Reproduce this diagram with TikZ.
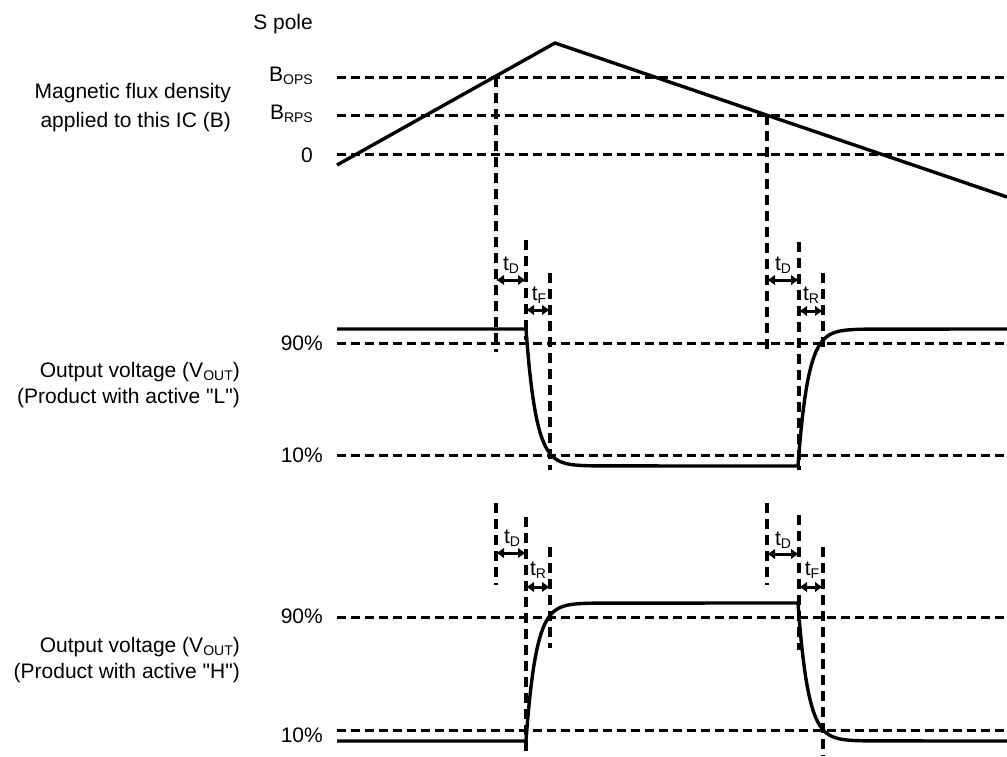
\documentclass[tikz,border=0pt]{standalone}
\usepackage{fontspec}
\newfontfamily\lib{Liberation Sans}
\usetikzlibrary{arrows.meta}
\newcommand\sbs[1]{\raisebox{-3pt}{\fontsize{14}{14}\selectfont #1}}
\begin{document}
\begin{tikzpicture}[x=1pt,y=-1pt,
  wave/.style={line width=3.4pt, line join=round},
  hdash/.style={line width=3pt, dash pattern=on 9pt off 5pt},
  vdash/.style={line width=3.3pt, dash pattern=on 10pt off 6pt},
  dim/.style={line width=3pt, {Latex[length=8pt,width=11pt]}-{Latex[length=8pt,width=11pt]}},
  lbl/.style={font=\lib\fontsize{21}{27}\selectfont, inner sep=0pt, anchor=base east},
  tl/.style={font=\lib\fontsize{21}{27}\selectfont, inner sep=0pt, anchor=base}]
\useasboundingbox (0,0) rectangle (1007,756);
% left labels
\node[lbl] (spole) at (313,29) {S pole};
\node[lbl] (bops) at (313,81) {B\sbs{OPS}};
\node[lbl] (brps) at (313,119) {B\sbs{RPS}};
\node[lbl] (zero) at (313,162) {0};
\node[lbl] (mag1) at (231,98) {Magnetic flux density};
\node[lbl] (mag2) at (231,127) {applied to this IC (B)};
\node[lbl] (ol1) at (240,377) {Output voltage (V\sbs{OUT})};
\node[lbl] (ol2) at (240,403) {(Product with active "L")};
\node[lbl] (oh1) at (240,652) {Output voltage (V\sbs{OUT})};
\node[lbl] (oh2) at (240,678) {(Product with active "H")};
\node[lbl] (l90) at (323,350) {90\%};
\node[lbl] (l10) at (323,462) {10\%};
\node[lbl] (h90) at (323,623) {90\%};
\node[lbl] (h10) at (323,742) {10\%};
% horizontal reference lines
\foreach \yy/\nm in {77/ops,115/rps,154/zr,343/la,455/lb,617/ha,730/hb}{
  \coordinate (\nm W) at (337,\yy);
  \coordinate (\nm E) at (1007,\yy);
  \draw[hdash] (\nm W) -- (\nm E);
}
% flux triangle
\coordinate (b0) at (337,165);
\coordinate (bpk) at (555,43);
\coordinate (b1) at (1007,197);
\draw[wave] (b0) -- (bpk) -- (b1);
% vertical dashed lines
\draw[vdash] (496,77) -- (496,352);
\draw[vdash] (496,503) -- (496,585);
\draw[vdash] (526,240) -- (526,340);
\draw[vdash] (526,517) -- (526,752);
\draw[vdash] (550,273) -- (550,470);
\draw[vdash] (550,547) -- (550,648);
\draw[vdash] (767,115) -- (767,350);
\draw[vdash] (767,503) -- (767,585);
\draw[vdash] (799,242) -- (799,470);
\draw[vdash] (799,515) -- (799,650);
\draw[vdash] (823,273) -- (823,350);
\draw[vdash] (823,547) -- (823,756);
% waveforms
\coordinate (l0) at (337,329);
\coordinate (l1) at (526,329);
\coordinate (l2) at (798,466);
\coordinate (l3) at (1007,329);
\draw[wave] (l0) -- (l1) -- plot[domain=526:600,samples=75,smooth] (\x,{466-137*exp(-(\x-526)/10)}) -- (l2)
  -- plot[domain=798:870,samples=73,smooth] (\x,{329+137*exp(-(\x-798)/10)}) -- (l3);
\coordinate (h0) at (337,741);
\coordinate (h1) at (526,741);
\coordinate (h2) at (798,603);
\coordinate (h3) at (1007,741);
\draw[wave] (h0) -- (h1) -- plot[domain=526:600,samples=75,smooth] (\x,{603+138*exp(-(\x-526)/10)}) -- (h2)
  -- plot[domain=798:870,samples=73,smooth] (\x,{741-138*exp(-(\x-798)/10)}) -- (h3);
% timing arrows
\coordinate (a1) at (496,280); \coordinate (a2) at (526,280);
\coordinate (a3) at (526,310); \coordinate (a4) at (550,310);
\coordinate (a5) at (767,280); \coordinate (a6) at (799,280);
\coordinate (a7) at (799,311); \coordinate (a8) at (823,311);
\coordinate (c1) at (496,553); \coordinate (c2) at (526,553);
\coordinate (c3) at (526,587); \coordinate (c4) at (550,587);
\coordinate (c5) at (767,554); \coordinate (c6) at (799,554);
\coordinate (c7) at (799,587); \coordinate (c8) at (823,587);
\draw[dim] (a1) -- (a2);
\draw[dim] (a3) -- (a4);
\draw[dim] (a5) -- (a6);
\draw[dim] (a7) -- (a8);
\draw[dim] (c1) -- (c2);
\draw[dim] (c3) -- (c4);
\draw[dim] (c5) -- (c6);
\draw[dim] (c7) -- (c8);
\node[tl] (td1) at (511,270) {t\sbs{D}};
\node[tl] (tf1) at (539,300) {t\sbs{F}};
\node[tl] (td2) at (783,270) {t\sbs{D}};
\node[tl] (tr2) at (811,300) {t\sbs{R}};
\node[tl] (td3) at (512,543) {t\sbs{D}};
\node[tl] (tr3) at (538,575) {t\sbs{R}};
\node[tl] (td4) at (783,545) {t\sbs{D}};
\node[tl] (tf4) at (812,575) {t\sbs{F}};
\end{tikzpicture}
\end{document}
